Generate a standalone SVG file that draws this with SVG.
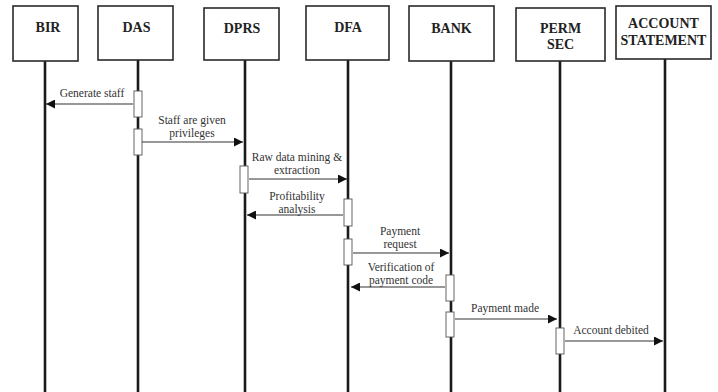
<svg xmlns="http://www.w3.org/2000/svg" width="718" height="392" viewBox="0 0 718 392">
  <defs>
    <marker id="head" viewBox="0 0 10 10" refX="10" refY="5" markerWidth="9" markerHeight="9" markerUnits="userSpaceOnUse" orient="auto">
      <path d="M0,0 L10,5 L0,10 Z" fill="#111"/>
    </marker>
    <style>
      .box { fill: #fff; stroke: #2a2a2a; stroke-width: 1.6; }
      .life { stroke: #1a1a1a; stroke-width: 2.6; }
      .title { font-family: "Liberation Serif", serif; font-weight: bold; font-size: 14px; fill: #222; text-anchor: middle; }
      .act { fill: #fff; stroke: #555; stroke-width: 0.9; }
      .msg { stroke: #333; stroke-width: 1.1; fill: none; marker-end: url(#head); }
      .lbl { font-family: "Liberation Serif", serif; font-size: 11.5px; fill: #333; text-anchor: middle; }
    </style>
  </defs>
  <rect width="718" height="392" fill="#fff"/>

  <!-- participants with lifelines -->
  <g id="bir">
    <line class="life" x1="45" y1="61" x2="45" y2="392"/>
    <rect class="box" x="13" y="6" width="65" height="55"/>
    <text class="title" x="48" y="32">BIR</text>
  </g>
  <g id="das">
    <line class="life" x1="138" y1="60" x2="138" y2="392"/>
    <rect class="box" x="98" y="6" width="75" height="54"/>
    <text class="title" x="136.5" y="32">DAS</text>
  </g>
  <g id="dprs">
    <line class="life" x1="245" y1="60" x2="245" y2="392"/>
    <rect class="box" x="204" y="8" width="75" height="52"/>
    <text class="title" x="242" y="33">DPRS</text>
  </g>
  <g id="dfa">
    <line class="life" x1="348" y1="60" x2="348" y2="392"/>
    <rect class="box" x="306" y="6" width="83" height="54"/>
    <text class="title" x="348" y="32">DFA</text>
  </g>
  <g id="bank">
    <line class="life" x1="451" y1="61" x2="451" y2="392"/>
    <rect class="box" x="409" y="6" width="85" height="55"/>
    <text class="title" x="451.5" y="33">BANK</text>
  </g>
  <g id="perm-sec">
    <line class="life" x1="560" y1="61" x2="560" y2="392"/>
    <rect class="box" x="516" y="8" width="89" height="53"/>
    <text class="title" x="560.5" y="33">PERM</text>
    <text class="title" x="560.5" y="49">SEC</text>
  </g>
  <g id="account-statement">
    <line class="life" x1="665" y1="59" x2="665" y2="392"/>
    <rect class="box" x="616" y="6" width="95" height="53"/>
    <text class="title" x="663.5" y="28">ACCOUNT</text>
    <text class="title" x="663.5" y="45">STATEMENT</text>
  </g>

  <!-- activation bars -->
  <g id="activations">
    <rect class="act" x="134" y="91" width="8" height="26"/>
    <rect class="act" x="134" y="129" width="8" height="26"/>
    <rect class="act" x="240" y="166" width="8" height="27"/>
    <rect class="act" x="344" y="199" width="8" height="27"/>
    <rect class="act" x="344" y="239" width="8" height="26"/>
    <rect class="act" x="446" y="275" width="8" height="26"/>
    <rect class="act" x="446" y="312" width="8" height="25"/>
    <rect class="act" x="556" y="328" width="8" height="26"/>
  </g>

  <!-- messages -->
  <g id="connectors">
    <line class="msg" x1="133" y1="104" x2="46" y2="104"/>
    <line class="msg" x1="142" y1="142" x2="243" y2="142"/>
    <line class="msg" x1="249" y1="179" x2="347" y2="179"/>
    <line class="msg" x1="343" y1="215" x2="247" y2="215"/>
    <line class="msg" x1="353" y1="253" x2="449" y2="253"/>
    <line class="msg" x1="445" y1="287" x2="351" y2="287"/>
    <line class="msg" x1="455" y1="319" x2="557" y2="319"/>
    <line class="msg" x1="565" y1="341" x2="663" y2="341"/>
  </g>

  <!-- message labels -->
  <g id="labels">
    <text class="lbl" x="92" y="97">Generate staff</text>
    <text class="lbl" x="192" y="124">Staff are given</text>
    <text class="lbl" x="192" y="137">privileges</text>
    <text class="lbl" x="297" y="161">Raw data mining &amp;</text>
    <text class="lbl" x="297" y="174">extraction</text>
    <text class="lbl" x="297" y="200">Profitability</text>
    <text class="lbl" x="297" y="213">analysis</text>
    <text class="lbl" x="400" y="235">Payment</text>
    <text class="lbl" x="400" y="248">request</text>
    <text class="lbl" x="401" y="271">Verification of</text>
    <text class="lbl" x="401" y="284">payment code</text>
    <text class="lbl" x="505" y="312">Payment made</text>
    <text class="lbl" x="611" y="334">Account debited</text>
  </g>
</svg>
